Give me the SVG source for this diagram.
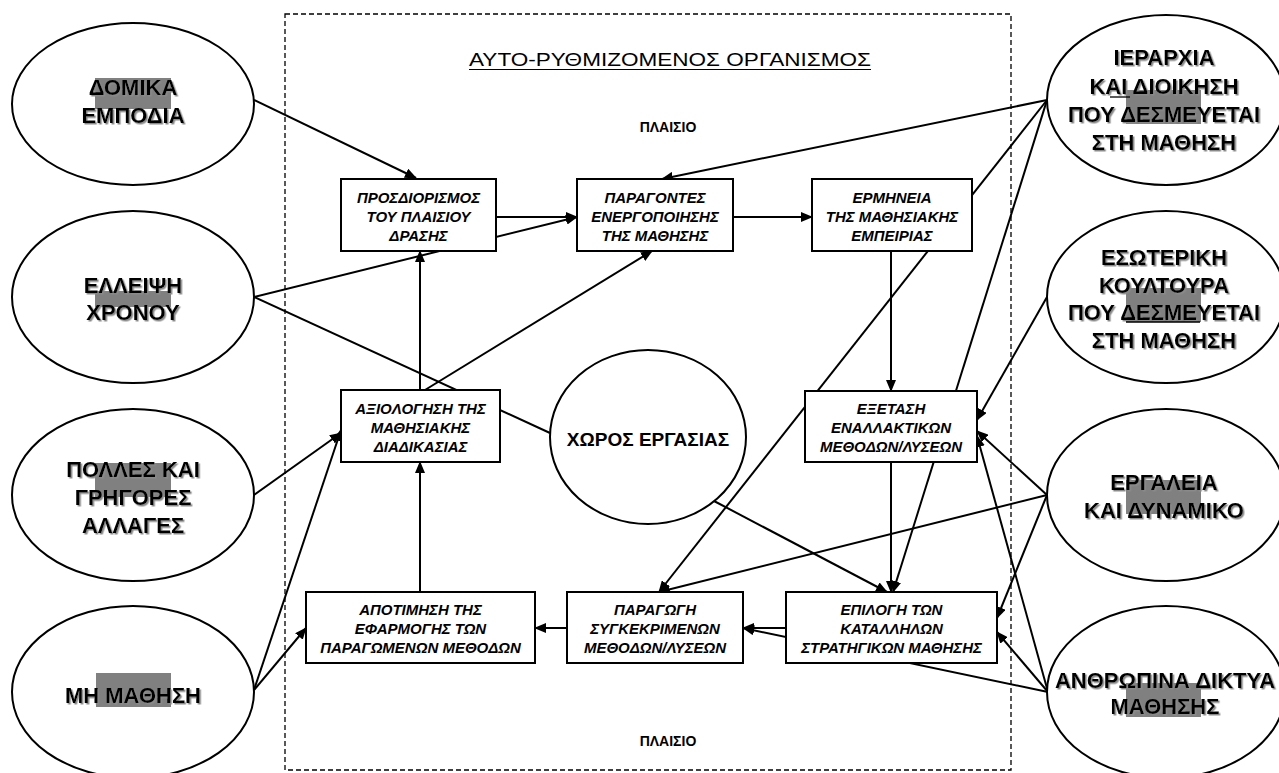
<svg xmlns="http://www.w3.org/2000/svg" width="1279" height="773" viewBox="0 0 1279 773">
<style>
.ell{fill:#fff;stroke:#000;stroke-width:2}
.box{fill:#fff;stroke:#000;stroke-width:2}
.gr{fill:#808080}
.el{font-family:"Liberation Sans",Arial,sans-serif;font-weight:bold;font-size:22px;text-anchor:middle;fill:#000}
.bt{font-family:"Liberation Sans",Arial,sans-serif;font-weight:bold;font-style:italic;font-size:15px;text-anchor:middle;fill:#000}
.wp{font-family:"Liberation Sans",Arial,sans-serif;font-weight:bold;font-size:19px;text-anchor:middle;fill:#000}
.ttl{font-family:"Liberation Sans",Arial,sans-serif;font-size:18px;fill:#000}
.pl{font-family:"Liberation Sans",Arial,sans-serif;font-weight:bold;font-size:14px;text-anchor:middle;fill:#000}
.cn line{stroke:#000;stroke-width:2;fill:none}
.ar{marker-end:url(#ah)}
.ul{stroke:#000;stroke-width:1.3}
</style>
<defs>
<marker id="ah" markerWidth="12" markerHeight="10" refX="11" refY="5" orient="auto" markerUnits="userSpaceOnUse"><path d="M0,0 L12,5 L0,10 z" fill="#000"/></marker>
<filter id="sh" x="-5%" y="-20%" width="115%" height="150%"><feDropShadow dx="1.5" dy="1.5" stdDeviation="0.6" flood-color="#8a8a8a" flood-opacity="1"/></filter>
</defs>
<rect width="1279" height="773" fill="#fff"/>
<rect id="frame" x="285" y="14" width="726" height="756" fill="none" stroke="#000" stroke-width="1.3" stroke-dasharray="5,3"/>
<g id="title">
<text class="ttl" x="469" y="66" textLength="402" lengthAdjust="spacingAndGlyphs">ΑΥΤΟ-ΡΥΘΜΙΖΟΜΕΝΟΣ ΟΡΓΑΝΙΣΜΟΣ</text>
<line x1="469" y1="69.5" x2="871" y2="69.5" stroke="#000" stroke-width="1.2"/>
<text class="pl" x="668" y="132">ΠΛΑΙΣΙΟ</text>
<text class="pl" x="668" y="746">ΠΛΑΙΣΙΟ</text>
</g>
<g id="connectors" class="cn">
<line class="ar" x1="254" y1="100" x2="416" y2="178"/>
<line class="ar" x1="254" y1="297" x2="577" y2="217"/>
<line x1="254" y1="297" x2="550" y2="433"/>
<line class="ar" x1="496" y1="217" x2="577" y2="217"/>
<line class="ar" x1="733" y1="217" x2="812" y2="217"/>
<line class="ar" x1="420" y1="390" x2="420" y2="251"/>
<line class="ar" x1="420" y1="592" x2="420" y2="462"/>
<line class="ar" x1="425" y1="390" x2="652" y2="251"/>
<line class="ar" x1="254" y1="495" x2="341" y2="433"/>
<line class="ar" x1="254" y1="690" x2="341" y2="430"/>
<line class="ar" x1="254" y1="690" x2="306" y2="628"/>
<line class="ar" x1="567" y1="628" x2="535" y2="628"/>
<line class="ar" x1="786" y1="628" x2="743" y2="628"/>
<line class="ar" x1="1048" y1="692" x2="743" y2="628"/>
<line class="ar" x1="1047" y1="100" x2="662" y2="179"/>
<line class="ar" x1="1047" y1="100" x2="659" y2="592"/>
<line class="ar" x1="1047" y1="100" x2="893" y2="592"/>
<line class="ar" x1="891" y1="251" x2="891" y2="391"/>
<line class="ar" x1="891" y1="462" x2="891" y2="592"/>
<line class="ar" x1="714" y1="501" x2="887" y2="592"/>
<line class="ar" x1="1047" y1="297" x2="977" y2="420"/>
<line class="ar" x1="1047" y1="495" x2="977" y2="431"/>
<line class="ar" x1="1047" y1="495" x2="659" y2="592"/>
<line class="ar" x1="1047" y1="495" x2="997" y2="618"/>
<line class="ar" x1="1048" y1="692" x2="977" y2="436"/>
<line class="ar" x1="1048" y1="692" x2="997" y2="632"/>
</g>
<g id="n-domika">
<ellipse class="ell" cx="133" cy="104" rx="121" ry="81"/>
<rect class="gr" x="95" y="78" width="76" height="31"/>
<text class="el" filter="url(#sh)"><tspan x="133" y="95">ΔΟΜΙΚΑ</tspan><tspan x="133" y="123">ΕΜΠΟΔΙΑ</tspan></text>
</g>
<g id="n-elleipsi">
<ellipse class="ell" cx="133" cy="297" rx="121" ry="86"/>
<rect class="gr" x="95" y="291" width="76" height="16"/>
<text class="el" filter="url(#sh)"><tspan x="133" y="293">ΕΛΛΕΙΨΗ</tspan><tspan x="133" y="320">ΧΡΟΝΟΥ</tspan></text>
</g>
<g id="n-polles">
<ellipse class="ell" cx="133" cy="495" rx="121" ry="86"/>
<rect class="gr" x="95" y="463" width="76" height="34"/>
<text class="el" filter="url(#sh)"><tspan x="133" y="477">ΠΟΛΛΕΣ ΚΑΙ</tspan><tspan x="133" y="505">ΓΡΗΓΟΡΕΣ</tspan><tspan x="133" y="533">ΑΛΛΑΓΕΣ</tspan></text>
</g>
<g id="n-mi-mathisi">
<ellipse class="ell" cx="133" cy="692" rx="121" ry="86"/>
<rect class="gr" x="96" y="673" width="75" height="34"/>
<text class="el" filter="url(#sh)"><tspan x="133" y="703">ΜΗ ΜΑΘΗΣΗ</tspan></text>
</g>
<g id="n-ierarxia">
<ellipse class="ell" cx="1166" cy="100" rx="119" ry="85"/>
<rect class="gr" x="1126" y="90" width="75" height="34"/>
<text class="el" filter="url(#sh)"><tspan x="1164" y="65">ΙΕΡΑΡΧΙΑ</tspan><tspan x="1164" y="94">ΚΑΙ ΔΙΟΙΚΗΣΗ</tspan><tspan x="1164" y="122">ΠΟΥ ΔΕΣΜΕΥΕΤΑΙ</tspan><tspan x="1164" y="150">ΣΤΗ ΜΑΘΗΣΗ</tspan></text>
<line class="ul" x1="1110" y1="97" x2="1130" y2="97"/>
</g>
<g id="n-esoteriki">
<ellipse class="ell" cx="1166" cy="297" rx="119" ry="86"/>
<rect class="gr" x="1126" y="288" width="75" height="34"/>
<text class="el" filter="url(#sh)"><tspan x="1164" y="265">ΕΣΩΤΕΡΙΚΗ</tspan><tspan x="1164" y="293">ΚΟΥΛΤΟΥΡΑ</tspan><tspan x="1164" y="320">ΠΟΥ ΔΕΣΜΕΥΕΤΑΙ</tspan><tspan x="1164" y="348">ΣΤΗ ΜΑΘΗΣΗ</tspan></text>
<line class="ul" x1="1126" y1="322" x2="1200" y2="322"/>
</g>
<g id="n-ergaleia">
<ellipse class="ell" cx="1166" cy="495" rx="119" ry="86"/>
<rect class="gr" x="1126" y="480" width="75" height="34"/>
<text class="el" filter="url(#sh)"><tspan x="1164" y="490">ΕΡΓΑΛΕΙΑ</tspan><tspan x="1164" y="518">ΚΑΙ ΔΥΝΑΜΙΚΟ</tspan></text>
</g>
<g id="n-anthropina">
<ellipse class="ell" cx="1166" cy="692" rx="119" ry="86"/>
<rect class="gr" x="1126" y="683" width="75" height="34"/>
<text class="el" filter="url(#sh)"><tspan x="1165" y="688">ΑΝΘΡΩΠΙΝΑ ΔΙΚΤΥΑ</tspan><tspan x="1165" y="714">ΜΑΘΗΣΗΣ</tspan></text>
</g>
<g id="n-xoros">
<ellipse class="ell" cx="648" cy="437" rx="98" ry="87"/>
<text class="wp" x="648" y="446">ΧΩΡΟΣ ΕΡΓΑΣΙΑΣ</text>
</g>
<g id="b-prosdiorismos">
<rect class="box" x="341" y="179" width="155" height="72"/>
<text class="bt"><tspan x="418.5" y="203">ΠΡΟΣΔΙΟΡΙΣΜΟΣ</tspan><tspan x="418.5" y="222">ΤΟΥ ΠΛΑΙΣΙΟΥ</tspan><tspan x="418.5" y="241">ΔΡΑΣΗΣ</tspan></text>
</g>
<g id="b-paragontes">
<rect class="box" x="577" y="179" width="156" height="72"/>
<text class="bt"><tspan x="655" y="203">ΠΑΡΑΓΟΝΤΕΣ</tspan><tspan x="655" y="222">ΕΝΕΡΓΟΠΟΙΗΣΗΣ</tspan><tspan x="655" y="241">ΤΗΣ ΜΑΘΗΣΗΣ</tspan></text>
</g>
<g id="b-ermineia">
<rect class="box" x="812" y="179" width="160" height="72"/>
<text class="bt"><tspan x="892" y="203">ΕΡΜΗΝΕΙΑ</tspan><tspan x="892" y="222">ΤΗΣ ΜΑΘΗΣΙΑΚΗΣ</tspan><tspan x="892" y="241">ΕΜΠΕΙΡΙΑΣ</tspan></text>
</g>
<g id="b-axiologisi">
<rect class="box" x="341" y="390" width="159" height="72"/>
<text class="bt"><tspan x="420.5" y="414">ΑΞΙΟΛΟΓΗΣΗ ΤΗΣ</tspan><tspan x="420.5" y="433">ΜΑΘΗΣΙΑΚΗΣ</tspan><tspan x="420.5" y="452">ΔΙΑΔΙΚΑΣΙΑΣ</tspan></text>
</g>
<g id="b-exetasi">
<rect class="box" x="805" y="391" width="172" height="71"/>
<text class="bt"><tspan x="891" y="414">ΕΞΕΤΑΣΗ</tspan><tspan x="891" y="433">ΕΝΑΛΛΑΚΤΙΚΩΝ</tspan><tspan x="891" y="452">ΜΕΘΟΔΩΝ/ΛΥΣΕΩΝ</tspan></text>
</g>
<g id="b-apotimisi">
<rect class="box" x="306" y="592" width="229" height="71"/>
<text class="bt"><tspan x="420.5" y="615">ΑΠΟΤΙΜΗΣΗ ΤΗΣ</tspan><tspan x="420.5" y="634">ΕΦΑΡΜΟΓΗΣ ΤΩΝ</tspan><tspan x="420.5" y="653">ΠΑΡΑΓΩΜΕΝΩΝ ΜΕΘΟΔΩΝ</tspan></text>
</g>
<g id="b-paragogi">
<rect class="box" x="567" y="592" width="176" height="71"/>
<text class="bt"><tspan x="655" y="615">ΠΑΡΑΓΩΓΗ</tspan><tspan x="655" y="634">ΣΥΓΚΕΚΡΙΜΕΝΩΝ</tspan><tspan x="655" y="653">ΜΕΘΟΔΩΝ/ΛΥΣΕΩΝ</tspan></text>
</g>
<g id="b-epilogi">
<rect class="box" x="786" y="592" width="211" height="71"/>
<text class="bt"><tspan x="891.5" y="615">ΕΠΙΛΟΓΗ ΤΩΝ</tspan><tspan x="891.5" y="634">ΚΑΤΑΛΛΗΛΩΝ</tspan><tspan x="891.5" y="653">ΣΤΡΑΤΗΓΙΚΩΝ ΜΑΘΗΣΗΣ</tspan></text>
</g>
</svg>
